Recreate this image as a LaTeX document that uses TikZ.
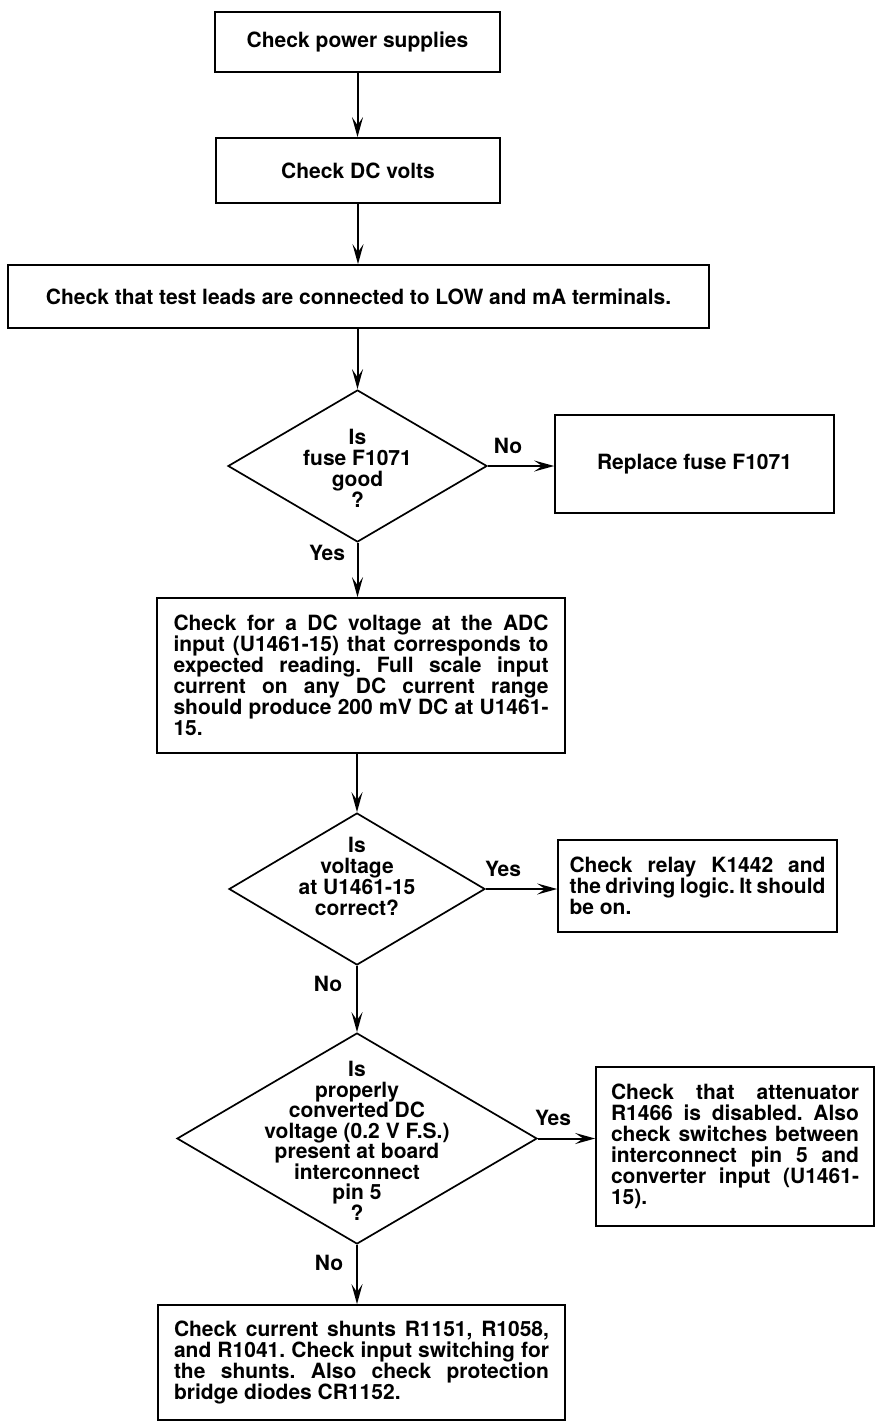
\documentclass[tikz,border=0pt]{standalone}
\usepackage{fontspec}
\setmainfont{TeX Gyre Heros}
\usetikzlibrary{shapes.geometric,arrows.meta}
\tolerance=10000
\hbadness=10000
\frenchspacing

\begin{document}
\begin{tikzpicture}[x=1pt,y=1pt,
		box/.style={draw=black,line width=1.7pt,rectangle},
		query/.style={draw=black,line width=1.7pt,diamond},
		para/.style={text width=#1,align=justify},
		flow/.style={line width=2pt,-{Stealth[length=20pt,width=11pt,inset=8pt]}},
		lbl/.style={anchor=base}]
		\tikzstyle{every node}+=[inner sep=0pt,font=\fontsize{21}{21}\selectfont\bfseries]
		\useasboundingbox (0,0) rectangle (875,-1421);
		% main column
		\node [box,minimum width=285,minimum height=60] (pwr) at (357.5,-42) {Check power supplies};
		\node [box,minimum width=284,minimum height=65] (dcv) at (358,-170.5) {Check DC volts};
		\node [box,minimum width=701,minimum height=63] (leads) at (358.5,-296.5) {Check that test leads are connected to LOW and mA terminals.};
		\node [query,minimum width=259,minimum height=152] (fuse) at (357.5,-466) {};
		\node [align=center] (fuseq) at (357.5,-468.5) {Is\\fuse F1071\\good\\?};
		\node [box,minimum width=408,minimum height=155,para=375pt] (adc) at (361,-675.5) {Check for a DC voltage at the ADC\linebreak input (U1461-15) that corresponds to\linebreak expected reading. Full scale input\linebreak current on any DC current range\linebreak should produce 200 mV DC at U1461-\linebreak 15.};
		\node [query,minimum width=256,minimum height=152] (volt) at (357,-889) {};
		\node [align=center] (voltq) at (357,-876) {Is\\voltage\\at U1461-15\\correct?};
		\node [query,minimum width=360,minimum height=211] (conv) at (357,-1138.5) {};
		\node [align=center,font=\fontsize{21}{20.5}\selectfont\bfseries] (convq) at (357,-1141) {Is\\properly\\converted DC\\voltage (0.2 V F.S.)\\present at board\\interconnect\\pin 5\\?};
		\node [box,minimum width=407,minimum height=115,para=375pt] (shunt) at (361.5,-1362.5) {Check current shunts R1151, R1058,\linebreak and R1041. Check input switching for\linebreak the shunts. Also check protection\linebreak bridge diodes CR1152.};
		% right column
		\node [box,minimum width=279,minimum height=98] (repl) at (694.5,-464) {Replace fuse F1071};
		\node [box,minimum width=279,minimum height=92,para=256pt] (relay) at (697.5,-886) {Check relay K1442 and\linebreak the driving logic. It should\linebreak be on.};
		\node [box,minimum width=278,minimum height=159,para=248pt] (atten) at (735,-1146.5) {Check that attenuator\linebreak R1466 is disabled. Also\linebreak check switches between\linebreak interconnect pin 5 and\linebreak converter input (U1461-\linebreak 15).};
		% connectors
		\draw [flow] (pwr.south) -- (pwr.south |- dcv.north);
		\draw [flow] (dcv.south) -- (dcv.south |- leads.north);
		\draw [flow] (fuse.north |- leads.south) -- (fuse.north);
		\draw [flow] (fuse.east) -- (repl.west |- fuse.east);
		\draw [flow] (fuse.south) -- (fuse.south |- adc.north);
		\draw [flow] (volt.north |- adc.south) -- (volt.north);
		\draw [flow] (volt.east) -- (relay.west |- volt.east);
		\draw [flow] (volt.south) -- (conv.north);
		\draw [flow] (conv.east) -- (atten.west |- conv.east);
		\draw [flow] (conv.south) -- (conv.south |- shunt.north);
		% answers
		\node [lbl] (no1) at (508,-453) {No};
		\node [lbl] (yes1) at (327,-560) {Yes};
		\node [lbl] (yes2) at (503,-876) {Yes};
		\node [lbl] (no2) at (328,-991) {No};
		\node [lbl] (yes3) at (553,-1125) {Yes};
		\node [lbl] (no3) at (329,-1270) {No};
\end{tikzpicture}
\end{document}
